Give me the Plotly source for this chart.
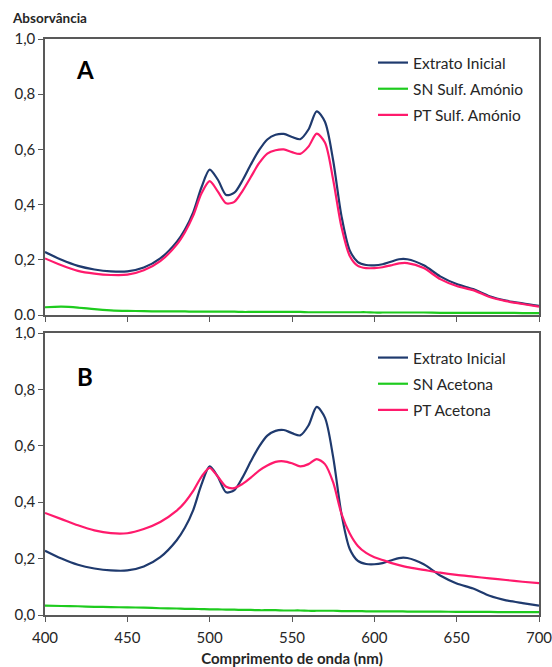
import plotly.graph_objects as go

# Wavelengths (nm) sampled for all spectra
wavelength = [400, 410, 420, 430, 440, 450, 460, 470, 480, 485, 490, 495, 500, 505, 510,
              515, 520, 525, 530, 535, 540, 545, 550, 555, 560, 565, 570, 575, 580, 585,
              590, 595, 600, 605, 610, 615, 620, 630, 640, 650, 660, 670, 680, 690, 700]

extrato_inicial = [0.228, 0.200, 0.178, 0.165, 0.158, 0.158, 0.172, 0.205, 0.265, 0.310,
                   0.372, 0.462, 0.527, 0.490, 0.435, 0.443, 0.488, 0.545, 0.597, 0.636,
                   0.653, 0.656, 0.645, 0.637, 0.672, 0.738, 0.700, 0.560, 0.360, 0.235,
                   0.192, 0.181, 0.180, 0.184, 0.193, 0.202, 0.202, 0.180, 0.140, 0.112,
                   0.094, 0.068, 0.052, 0.042, 0.033]

sn_sulf_amonio = [0.028, 0.030, 0.027, 0.021, 0.017, 0.015, 0.014, 0.013, 0.013, 0.013,
                  0.012, 0.012, 0.012, 0.012, 0.012, 0.012, 0.011, 0.011, 0.011, 0.011,
                  0.011, 0.011, 0.011, 0.011, 0.010, 0.010, 0.010, 0.010, 0.010, 0.010,
                  0.010, 0.010, 0.009, 0.009, 0.009, 0.009, 0.009, 0.009, 0.008, 0.008,
                  0.008, 0.008, 0.008, 0.007, 0.007]

pt_sulf_amonio = [0.205, 0.180, 0.160, 0.150, 0.145, 0.146, 0.162, 0.195, 0.255, 0.300,
                  0.360, 0.440, 0.485, 0.447, 0.405, 0.410, 0.450, 0.500, 0.550, 0.585,
                  0.597, 0.600, 0.590, 0.584, 0.610, 0.657, 0.625, 0.490, 0.320, 0.215,
                  0.178, 0.170, 0.170, 0.173, 0.180, 0.187, 0.188, 0.170, 0.130, 0.105,
                  0.090, 0.065, 0.050, 0.040, 0.030]

sn_acetona = [0.033, 0.032, 0.031, 0.029, 0.028, 0.027, 0.026, 0.024, 0.023, 0.022,
              0.022, 0.021, 0.020, 0.020, 0.019, 0.019, 0.018, 0.018, 0.017, 0.017,
              0.017, 0.016, 0.016, 0.016, 0.015, 0.015, 0.015, 0.015, 0.014, 0.014,
              0.014, 0.013, 0.013, 0.013, 0.013, 0.013, 0.012, 0.012, 0.012, 0.011,
              0.011, 0.011, 0.010, 0.010, 0.010]

pt_acetona = [0.362, 0.340, 0.318, 0.300, 0.290, 0.290, 0.305, 0.330, 0.370, 0.400,
              0.440, 0.490, 0.522, 0.490, 0.455, 0.450, 0.465, 0.487, 0.512, 0.530,
              0.543, 0.545, 0.538, 0.527, 0.535, 0.553, 0.535, 0.470, 0.360, 0.290,
              0.245, 0.220, 0.205, 0.195, 0.185, 0.177, 0.170, 0.160, 0.150, 0.142,
              0.136, 0.130, 0.124, 0.118, 0.113]

y_ticks = [0.0, 0.2, 0.4, 0.6, 0.8, 1.0]
y_labels_top = ["0.0", "0,2", "0,4", "0,6", "0,8", "1,0"]
y_labels_bottom = ["0,0", "0,2", "0,4", "0,6", "0,8", "1,0"]
x_ticks = [400, 450, 500, 550, 600, 650, 700]

NAVY = "#1f3a6e"
GREEN = "#1ecb1e"
PINK = "#ff1a6c"
AXIS = "#595959"
TEXT = "#262626"
FONT = "Lato"

W, H = 552, 667
ML, MR, MT, MB = 45, 13, 39, 52
PW, PH = W - ML - MR, H - MT - MB


def px(x):
    return (x - ML) / PW


def py(y):
    return (H - MB - y) / PH


fig = go.Figure()

top = [("Extrato Inicial", extrato_inicial, NAVY),
       ("SN Sulf. Amónio", sn_sulf_amonio, GREEN),
       ("PT Sulf. Amónio", pt_sulf_amonio, PINK)]
bottom = [("Extrato Inicial", extrato_inicial, NAVY),
          ("SN Acetona", sn_acetona, GREEN),
          ("PT Acetona", pt_acetona, PINK)]

for i, (name, vals, col) in enumerate(top):
    fig.add_trace(go.Scatter(x=wavelength, y=vals, name=name, mode="lines",
                             line=dict(color=col, width=2.2, shape="spline", smoothing=0.8),
                             xaxis="x", yaxis="y", legend="legend",
                             legendgroup=f"a{i}"))
for i, (name, vals, col) in enumerate(bottom):
    fig.add_trace(go.Scatter(x=wavelength, y=vals, name=name, mode="lines",
                             line=dict(color=col, width=2.2, shape="spline", smoothing=0.8),
                             xaxis="x2", yaxis="y2", legend="legend2",
                             legendgroup=f"b{i}"))

gap = (H - MB - 333) / PH
top_lo = (H - MB - 315) / PH

axis_common = dict(showline=True, linecolor=AXIS, linewidth=1.5, mirror=True,
                   ticks="outside", ticklen=5, tickcolor=AXIS, tickwidth=1.2,
                   showgrid=False, zeroline=False, automargin=False,
                   ticklabeloverflow="allow",
                   tickfont=dict(family=FONT, size=15, color=TEXT))

legend_common = dict(xanchor="left", yanchor="top", traceorder="grouped",
                     tracegroupgap=3, bgcolor="rgba(0,0,0,0)",
                     font=dict(family=FONT, size=15.5, color=TEXT))

fig.update_layout(
    width=W, height=H,
    margin=dict(l=ML, r=MR, t=MT, b=MB),
    paper_bgcolor="white", plot_bgcolor="white",
    font=dict(family=FONT, size=15, color=TEXT),
    xaxis=dict(domain=[0, 1], range=[400, 700], tickvals=x_ticks, showticklabels=False,
               anchor="y", **axis_common),
    yaxis=dict(domain=[top_lo, 1], range=[0, 1], tickvals=y_ticks, ticktext=y_labels_top,
               anchor="x", **axis_common),
    xaxis2=dict(domain=[0, 1], range=[400, 700], tickvals=x_ticks, anchor="y2",
                ticklabelstandoff=3,
                title=dict(text="<b>Comprimento de onda (nm)</b>", standoff=14,
                           font=dict(family=FONT, size=15, color=TEXT)),
                **axis_common),
    yaxis2=dict(domain=[0, gap], range=[0, 1], tickvals=y_ticks, ticktext=y_labels_bottom,
                anchor="x2", **axis_common),
    legend=dict(x=px(373), y=py(46), **legend_common),
    legend2=dict(x=px(373), y=py(341), **legend_common),
    showlegend=True,
)

fig.add_annotation(text="<b>Absorvância</b>", xref="paper", yref="paper",
                   x=px(10), y=py(18), xanchor="left", yanchor="middle", showarrow=False,
                   font=dict(family=FONT, size=13.5, color=TEXT))
fig.add_annotation(text="<b>A</b>", xref="paper", yref="paper",
                   x=px(85), y=py(70), xanchor="center", yanchor="middle", showarrow=False,
                   font=dict(family=FONT, size=24, color="black"))
fig.add_annotation(text="<b>B</b>", xref="paper", yref="paper",
                   x=px(85), y=py(376), xanchor="center", yanchor="middle", showarrow=False,
                   font=dict(family=FONT, size=24, color="black"))

fig.write_html("out.html")
